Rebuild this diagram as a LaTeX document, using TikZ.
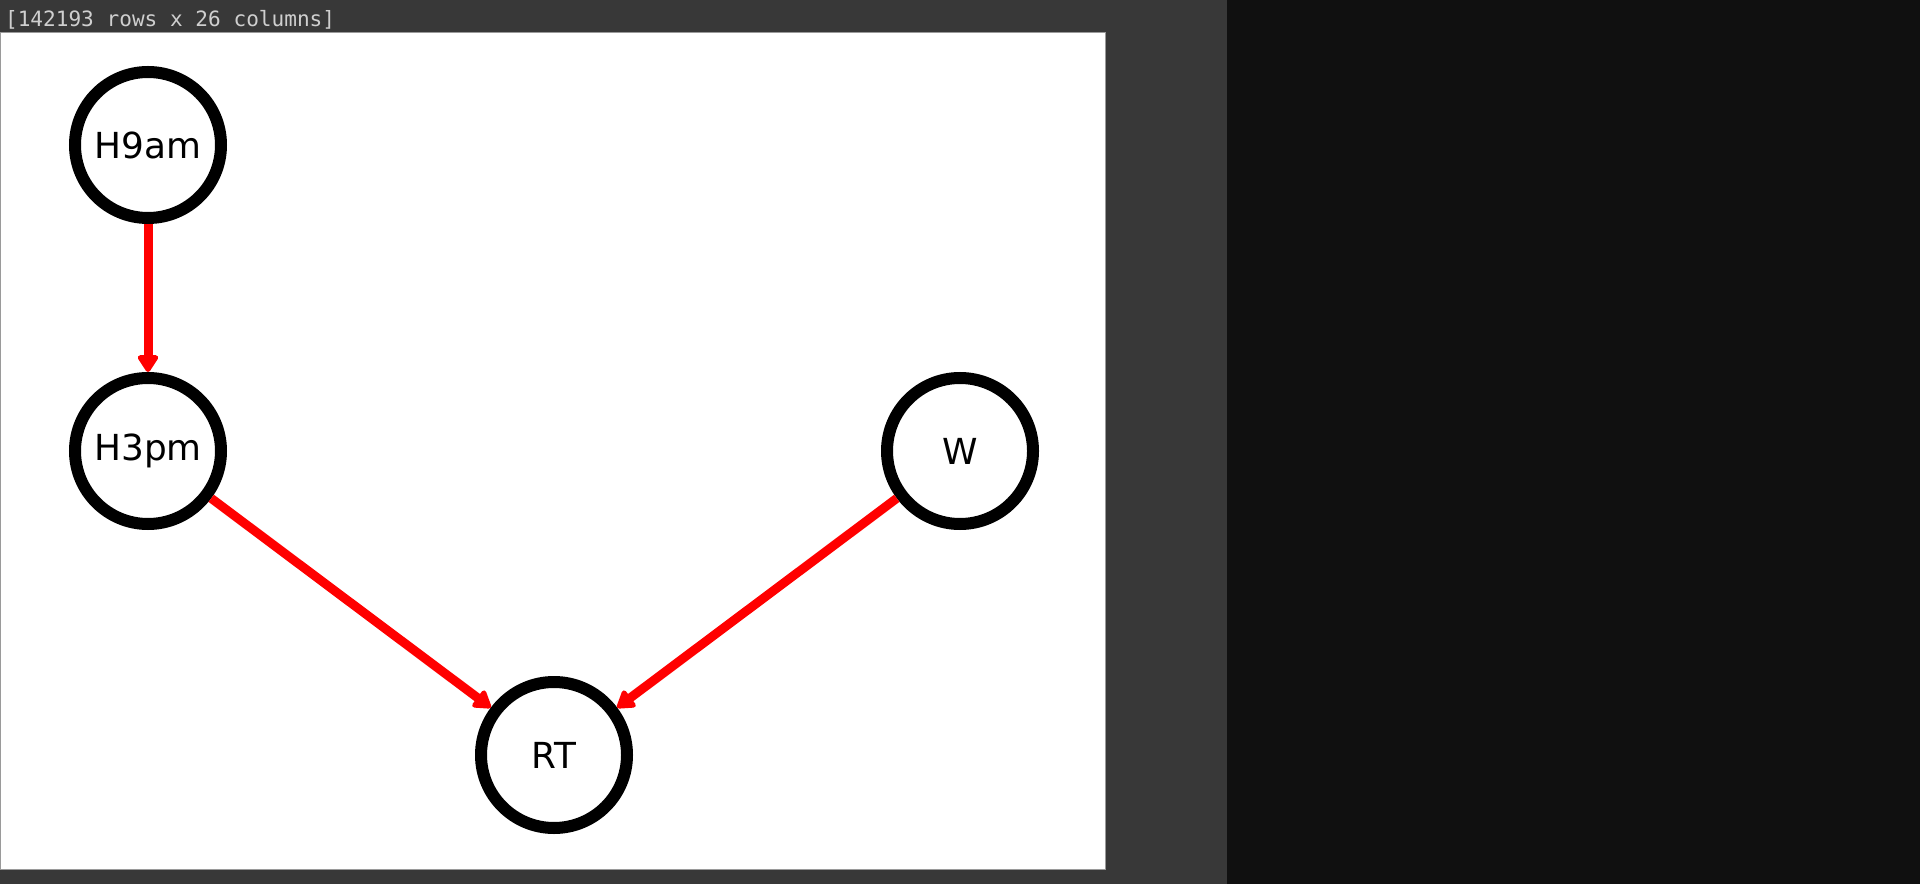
\documentclass[tikz,border=0pt]{standalone}
\usepackage{fontspec}
\setmainfont{DejaVu Sans}
\setmonofont{DejaVu Sans Mono}
\usepackage{tikz}
\usetikzlibrary{arrows.meta,automata,positioning}
\definecolor{panelgray}{HTML}{383838}
\definecolor{paneldark}{HTML}{101010}
\definecolor{framegray}{HTML}{9A9A9A}
\definecolor{infogray}{HTML}{CFCFCF}

\begin{document}
\begin{tikzpicture}[->,>={Triangle[length=0.19cm,width=0.23cm,round]},auto,
                    node distance=3.06cm,on grid,semithick]
  \tikzstyle{every state}=[fill=white,draw=black,line width=0.12cm,
                           minimum size=1.46cm,inner sep=0pt,text=black,
                           font=\fontsize{10.2}{12}\selectfont]
  \tikzstyle{every edge}=[draw=red,line width=0.09cm]

  % output panel
  \useasboundingbox (0,0) rectangle (19.2,-8.84);
  \fill[-,paneldark] (0,0) rectangle (19.2,-8.84);
  \fill[-,panelgray] (0,0) rectangle (12.27,-8.84);
  \filldraw[-,fill=white,draw=framegray,line width=0.01cm] (0.01,-0.33) rectangle (11.05,-8.69);
  \node[anchor=base west,inner sep=0pt,text=infogray,
        font=\ttfamily\fontsize{6}{7}\selectfont] (info) at (0.04,-0.27)
        {[142193 rows x 26 columns]};

  \node[state] (H9am) at (1.48,-1.45)          {H9am};
  \node[state] (H3pm) [below=of H9am]          {H3pm};
  \node[state] (W)    [right=8.12cm of H3pm]   {W};
  \node[state] (RT)   [below right=3.04cm and 4.06cm of H3pm] {RT};

  \path (H9am) edge node {} (H3pm)
        (H3pm) edge node {} (RT)
        (W)    edge node {} (RT);
\end{tikzpicture}
\end{document}
